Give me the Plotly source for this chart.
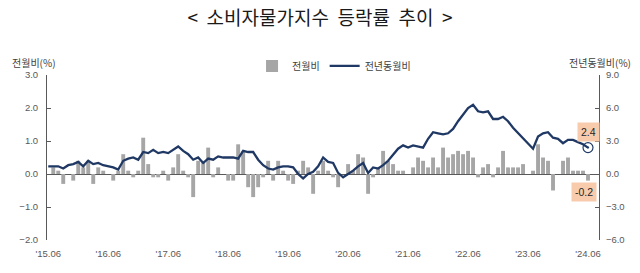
import plotly.graph_objects as go

# ---- data ----
months = list(range(109))  # 2015.06 .. 2024.06
tick_idx = [0, 12, 24, 36, 48, 60, 72, 84, 96, 108]
tick_labels = ["'15.06", "'16.06", "'17.06", "'18.06", "'19.06",
               "'20.06", "'21.06", "'22.06", "'23.06", "'24.06"]

mom = [
    0.0, 0.2, 0.1, -0.3, 0.0, -0.2, 0.4,                              # 2015.06-12
    0.2, 0.4, -0.3, 0.2, 0.1, 0.0, -0.2, 0.1, 0.6, 0.1, -0.1, 0.1,    # 2016
    1.1, 0.3, -0.1, -0.1, 0.1, -0.2, 0.2, 0.6, 0.1, -0.1, -0.7, 0.4,  # 2017
    0.4, 0.8, -0.1, 0.2, 0.0, -0.2, -0.2, 0.9, 0.7, -0.4, -0.7, -0.4, # 2018
    -0.1, 0.4, -0.2, 0.4, 0.1, -0.2, -0.3, 0.1, 0.4, 0.2, -0.6, 0.1,  # 2019
    0.4, 0.1, -0.1, -0.4, 0.0, 0.3, 0.1, 0.6, 0.5, -0.6, -0.1, 0.2,   # 2020
    0.7, 0.4, 0.3, 0.1, 0.1, 0.0, 0.2, 0.5, 0.4, 0.2, 0.5, 0.2,       # 2021
    0.8, 0.5, 0.6, 0.7, 0.6, 0.7, 0.5, -0.1, 0.2, 0.3, -0.1, 0.2,     # 2022
    0.7, 0.2, 0.2, 0.2, 0.3, 0.0, 0.1, 0.9, 0.5, 0.4, -0.5, 0.0,      # 2023
    0.4, 0.5, 0.1, 0.1, 0.1, -0.2,                                    # 2024.01-06
]

yoy = [
    0.7, 0.7, 0.7, 0.5, 0.8, 0.9, 1.1,                                # 2015.06-12
    0.7, 1.2, 0.9, 1.0, 0.8, 0.7, 0.6, 0.4, 1.2, 1.4, 1.5, 1.3,       # 2016
    2.0, 1.9, 2.2, 1.9, 2.0, 1.9, 2.2, 2.5, 2.1, 1.8, 1.3, 1.5,       # 2017
    1.0, 1.4, 1.3, 1.6, 1.5, 1.5, 1.5, 1.4, 2.1, 2.0, 2.0, 1.3,       # 2018
    0.8, 0.5, 0.4, 0.6, 0.7, 0.7, 0.6, 0.0, -0.4, 0.0, 0.2, 0.7,      # 2019
    1.5, 1.1, 1.0, 0.1, -0.3, 0.0, 0.3, 0.7, 1.0, 0.1, 0.6, 0.5,      # 2020
    0.8, 1.2, 1.8, 2.3, 2.6, 2.4, 2.6, 2.5, 2.4, 3.2, 3.8, 3.7,       # 2021
    3.6, 3.7, 4.1, 4.8, 5.4, 6.0, 6.3, 5.7, 5.6, 5.7, 5.0, 5.0,       # 2022
    5.2, 4.8, 4.2, 3.7, 3.3, 2.7, 2.3, 3.4, 3.7, 3.8, 3.3, 3.2,       # 2023
    2.8, 3.1, 3.1, 2.9, 2.7, 2.4,                                     # 2024.01-06
]

BAR = "#A6A6A6"
LINE = "#1F3864"
AX = "#595959"
TXT = "#404040"
NUMFONT = "Liberation Sans, Arial, Noto Sans CJK KR, sans-serif"
KRFONT = "Noto Sans CJK KR, sans-serif"

fig = go.Figure()
fig.add_trace(go.Bar(x=months, y=mom, name="전월비", marker_color=BAR,
                     marker_line_width=0, yaxis="y"))
fig.add_trace(go.Scatter(x=months, y=yoy, name="전년동월비", mode="lines",
                         line=dict(color=LINE, width=2.3), yaxis="y2"))
fig.add_trace(go.Scatter(x=[months[-1]], y=[yoy[-1]], mode="markers",
                         marker=dict(symbol="circle-open-dot", size=10, color=LINE,
                                     line=dict(color=LINE, width=1.2)),
                         yaxis="y2", showlegend=False, hoverinfo="skip"))

fig.update_layout(
    width=640, height=273,
    margin=dict(l=47, r=41, t=75, b=33),
    paper_bgcolor="white", plot_bgcolor="white",
    bargap=0.22,
    font=dict(family=NUMFONT, size=10, color=TXT),
    title=dict(text="<  소비자물가지수  등락률  추이  >", x=0.5, xanchor="center",
               y=0.932, yanchor="middle",
               font=dict(family=KRFONT, size=19, color="#1a1a1a")),
    showlegend=True,
    legend=dict(orientation="h", x=0.52, xanchor="center", y=1.055, yanchor="middle",
                font=dict(family=KRFONT, size=10, color=TXT),
                bgcolor="rgba(0,0,0,0)", itemwidth=30, tracegroupgap=0),
    xaxis=dict(range=[-0.25, 110.2], tickmode="array", tickvals=tick_idx,
               ticktext=tick_labels, showgrid=False, showline=False, zeroline=False,
               ticks="", tickfont=dict(size=9.5, color=AX), ticklabelstandoff=6),
    yaxis=dict(range=[-2, 3], dtick=1, tick0=0, tickformat=".1f", showgrid=False,
               showline=True, linecolor=AX, linewidth=1, ticks="inside", ticklen=4,
               tickcolor=AX, zeroline=True, zerolinecolor=AX, zerolinewidth=1,
               tickfont=dict(size=9.5, color=AX), ticklabelstandoff=6),
    yaxis2=dict(range=[-6, 9], dtick=3, tick0=0, tickformat=".1f", overlaying="y",
                side="right", showgrid=False, showline=True, linecolor=AX, linewidth=1,
                ticks="inside", ticklen=4, tickcolor=AX, zeroline=False,
                tickfont=dict(size=9.5, color=AX), ticklabelstandoff=4),
)

fig.add_annotation(text="전월비(%)", xref="paper", yref="paper", x=-0.024, y=1.073,
                   xanchor="center", yanchor="middle", showarrow=False,
                   font=dict(family=KRFONT, size=10, color=TXT))
fig.add_annotation(text="전년동월비(%)", xref="paper", yref="paper", x=1.061, y=1.073,
                   xanchor="right", yanchor="middle", showarrow=False,
                   font=dict(family=KRFONT, size=10, color=TXT))

fig.add_annotation(text=f"{yoy[-1]:.1f}", x=months[-1], y=yoy[-1], xref="x", yref="y2",
                   showarrow=False, yshift=16, bgcolor="#F8CBAD", borderpad=3,
                   font=dict(family=NUMFONT, size=10.5, color="#262626"))
fig.add_annotation(text=f"{mom[-1]:.1f}", x=months[-1], y=mom[-1], xref="x", yref="y",
                   showarrow=False, yshift=-11, xshift=-4, bgcolor="#F8CBAD", borderpad=3,
                   font=dict(family=NUMFONT, size=10.5, color="#262626"))

fig.write_html("out.html")
